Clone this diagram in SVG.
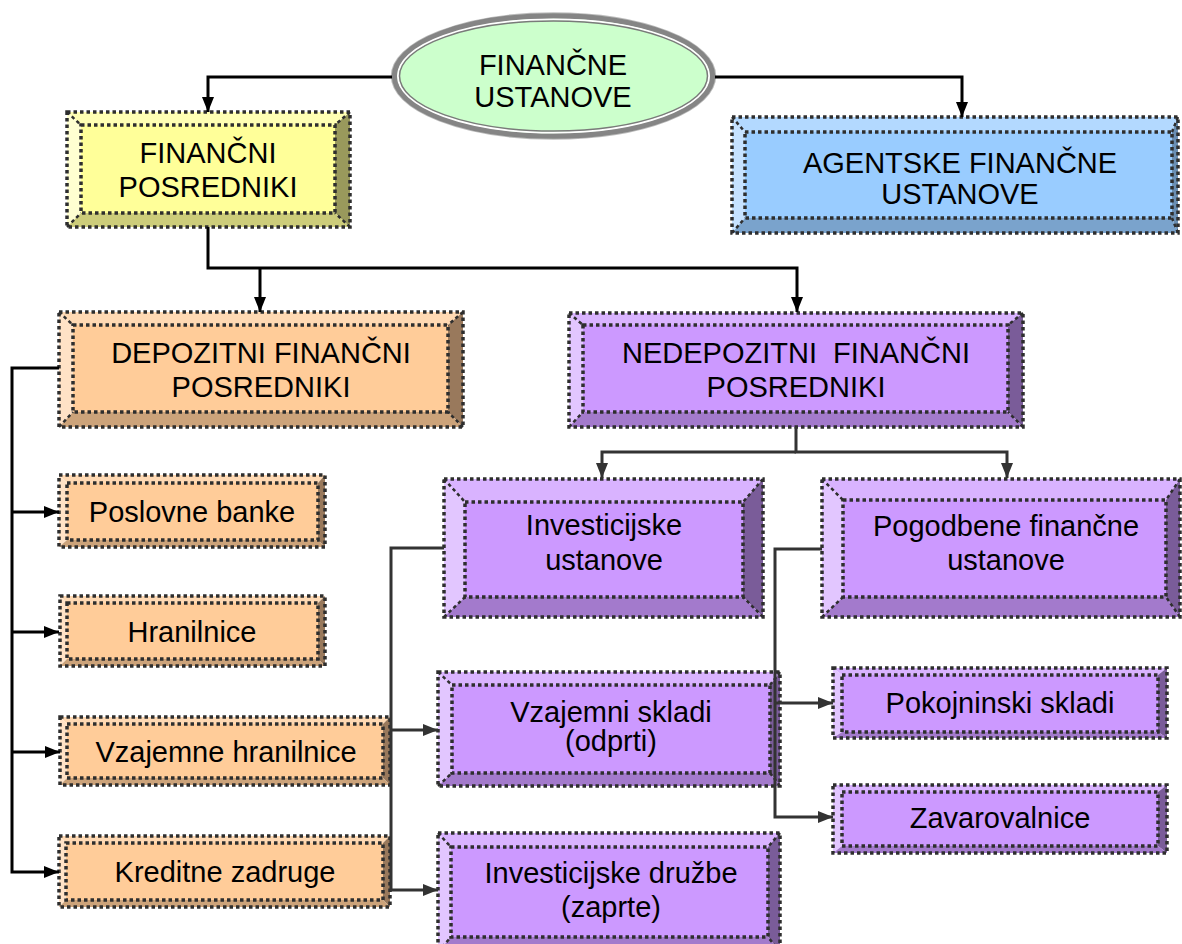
<svg xmlns="http://www.w3.org/2000/svg" width="1182" height="944" viewBox="0 0 1182 944">
<style>
text{font-family:"Liberation Sans",Arial,sans-serif;font-size:29px;fill:#000;text-anchor:middle}
.o,.f,.d{stroke:#2e2e2e;stroke-dasharray:3.5 3;stroke-width:3.5}
.o{fill:none}
.d{fill:none;stroke-width:2.5}
.yel .t{fill:#ffffb3}.yel .l{fill:#ffffd1}.yel .r{fill:#99995c}.yel .b{fill:#cccc7a}.yel .f{fill:#ffff99}
.blu .t{fill:#b3d9ff}.blu .l{fill:#c6e2ff}.blu .r{fill:#6b8fb3}.blu .b{fill:#7aa3cc}.blu .f{fill:#99ccff}
.ora .t{fill:#ffd9b3}.ora .l{fill:#ffe2c6}.ora .r{fill:#99795c}.ora .b{fill:#cca37a}.ora .f{fill:#ffcc99}
.pur .t{fill:#d9b3ff}.pur .l{fill:#e2c6ff}.pur .r{fill:#7a5c99}.pur .b{fill:#a37acc}.pur .f{fill:#cc99ff}
.cb{fill:none;stroke:#000;stroke-width:3}
.cg{fill:none;stroke:#333;stroke-width:3}
</style>
<defs>
<marker id="ab" viewBox="0 0 10 10" refX="10" refY="5" markerWidth="15" markerHeight="15" markerUnits="userSpaceOnUse" orient="auto"><path d="M0,1 L10,5 L0,9 z" fill="#000"/></marker>
<marker id="ag" viewBox="0 0 10 10" refX="10" refY="5" markerWidth="15" markerHeight="15" markerUnits="userSpaceOnUse" orient="auto"><path d="M0,1 L10,5 L0,9 z" fill="#333"/></marker>
</defs>

<g id="n-financne-ustanove">
<ellipse cx="553.5" cy="76" rx="162" ry="63" fill="#ccffcc" stroke="#bdbdbd" stroke-width="1.5"/>
<ellipse cx="553.5" cy="76" rx="159" ry="60" fill="none" stroke="#858585" stroke-width="5.5"/>
<ellipse cx="553.5" cy="76" rx="155.5" ry="56.5" fill="none" stroke="#fff" stroke-width="2"/>
<ellipse cx="553.5" cy="76" rx="154" ry="55" fill="none" stroke="#7a7a7a" stroke-width="1.5"/>
<text x="553" y="75">FINANČNE</text>
<text x="553" y="107">USTANOVE</text>
</g>

<g id="n-financni-posredniki" class="yel">
<polygon class="t" points="67,112 350,112 335,125 81,125"/>
<polygon class="l" points="67,112 81,125 81,213 67,227"/>
<polygon class="r" points="350,112 350,227 335,213 335,125"/>
<polygon class="b" points="67,227 81,213 335,213 350,227"/>
<rect class="f" x="81" y="125" width="254" height="88"/>
<rect class="o" x="67" y="112" width="283" height="115"/>
<path class="d" d="M67,112 L81,125 M350,112 L335,125 M350,227 L335,213 M67,227 L81,213"/>
<text x="208" y="163">FINANČNI</text>
<text x="208" y="197">POSREDNIKI</text>
</g>

<g id="n-agentske" class="blu">
<polygon class="t" points="732,117 1178,117 1172,132 745,132"/>
<polygon class="l" points="732,117 745,132 745,218 732,233"/>
<polygon class="r" points="1178,117 1178,233 1172,218 1172,132"/>
<polygon class="b" points="732,233 745,218 1172,218 1178,233"/>
<rect class="f" x="745" y="132" width="427" height="86"/>
<rect class="o" x="732" y="117" width="446" height="116"/>
<path class="d" d="M732,117 L745,132 M1178,117 L1172,132 M1178,233 L1172,218 M732,233 L745,218"/>
<text x="960" y="173">AGENTSKE FINANČNE</text>
<text x="960" y="204">USTANOVE</text>
</g>

<g id="n-depozitni" class="ora">
<polygon class="t" points="59,312 463,312 448,325 73,325"/>
<polygon class="l" points="59,312 73,325 73,412 59,427"/>
<polygon class="r" points="463,312 463,427 448,412 448,325"/>
<polygon class="b" points="59,427 73,412 448,412 463,427"/>
<rect class="f" x="73" y="325" width="375" height="87"/>
<rect class="o" x="59" y="312" width="404" height="115"/>
<path class="d" d="M59,312 L73,325 M463,312 L448,325 M463,427 L448,412 M59,427 L73,412"/>
<text x="261" y="363">DEPOZITNI FINANČNI</text>
<text x="261" y="397">POSREDNIKI</text>
</g>

<g id="n-nedepozitni" class="pur">
<polygon class="t" points="569,313 1023,313 1008,325 583,325"/>
<polygon class="l" points="569,313 583,325 583,412 569,427"/>
<polygon class="r" points="1023,313 1023,427 1008,412 1008,325"/>
<polygon class="b" points="569,427 583,412 1008,412 1023,427"/>
<rect class="f" x="583" y="325" width="425" height="87"/>
<rect class="o" x="569" y="313" width="454" height="114"/>
<path class="d" d="M569,313 L583,325 M1023,313 L1008,325 M1023,427 L1008,412 M569,427 L583,412"/>
<text x="796" y="363" xml:space="preserve">NEDEPOZITNI  FINANČNI</text>
<text x="796" y="397">POSREDNIKI</text>
</g>

<g id="n-investicijske-ustanove" class="pur">
<polygon class="t" points="444,479 763,479 743,502 465,502"/>
<polygon class="l" points="444,479 465,502 465,597 444,617"/>
<polygon class="r" points="763,479 763,617 743,597 743,502"/>
<polygon class="b" points="444,617 465,597 743,597 763,617"/>
<rect class="f" x="465" y="502" width="278" height="95"/>
<rect class="o" x="444" y="479" width="319" height="138"/>
<path class="d" d="M444,479 L465,502 M763,479 L743,502 M763,617 L743,597 M444,617 L465,597"/>
<text x="604" y="535">Investicijske</text>
<text x="604" y="570">ustanove</text>
</g>

<g id="n-pogodbene" class="pur">
<polygon class="t" points="822,479 1180,479 1166,500 843,500"/>
<polygon class="l" points="822,479 843,500 843,597 822,617"/>
<polygon class="r" points="1180,479 1180,617 1166,597 1166,500"/>
<polygon class="b" points="822,617 843,597 1166,597 1180,617"/>
<rect class="f" x="843" y="500" width="323" height="97"/>
<rect class="o" x="822" y="479" width="358" height="138"/>
<path class="d" d="M822,479 L843,500 M1180,479 L1166,500 M1180,617 L1166,597 M822,617 L843,597"/>
<text x="1006" y="536">Pogodbene finančne</text>
<text x="1006" y="570">ustanove</text>
</g>

<g id="n-poslovne-banke" class="ora">
<polygon class="t" points="59,475 325,475 318,483 67,483"/>
<polygon class="l" points="59,475 67,483 67,540 59,547"/>
<polygon class="r" points="325,475 325,547 318,540 318,483"/>
<polygon class="b" points="59,547 67,540 318,540 325,547"/>
<rect class="f" x="67" y="483" width="251" height="57"/>
<rect class="o" x="59" y="475" width="266" height="72"/>
<text x="192" y="522">Poslovne banke</text>
</g>

<g id="n-hranilnice" class="ora">
<polygon class="t" points="60,596 325,596 318,603 67,603"/>
<polygon class="l" points="60,596 67,603 67,659 60,666"/>
<polygon class="r" points="325,596 325,666 318,659 318,603"/>
<polygon class="b" points="60,666 67,659 318,659 325,666"/>
<rect class="f" x="67" y="603" width="251" height="56"/>
<rect class="o" x="60" y="596" width="265" height="70"/>
<text x="192" y="642">Hranilnice</text>
</g>

<g id="n-vzajemne-hranilnice" class="ora">
<polygon class="t" points="60,717 390,717 383,724 67,724"/>
<polygon class="l" points="60,717 67,724 67,778 60,785"/>
<polygon class="r" points="390,717 390,785 383,778 383,724"/>
<polygon class="b" points="60,785 67,778 383,778 390,785"/>
<rect class="f" x="67" y="724" width="316" height="54"/>
<rect class="o" x="60" y="717" width="330" height="68"/>
<text x="226" y="762">Vzajemne hranilnice</text>
</g>

<g id="n-kreditne-zadruge" class="ora">
<polygon class="t" points="59,836 390,836 383,843 66,843"/>
<polygon class="l" points="59,836 66,843 66,900 59,907"/>
<polygon class="r" points="390,836 390,907 383,900 383,843"/>
<polygon class="b" points="59,907 66,900 383,900 390,907"/>
<rect class="f" x="66" y="843" width="317" height="57"/>
<rect class="o" x="59" y="836" width="331" height="71"/>
<text x="225" y="882">Kreditne zadruge</text>
</g>

<g id="n-vzajemni-skladi" class="pur">
<polygon class="t" points="438,672 780,672 770,685 452,685"/>
<polygon class="l" points="438,672 452,685 452,773 438,786"/>
<polygon class="r" points="780,672 780,786 770,773 770,685"/>
<polygon class="b" points="438,786 452,773 770,773 780,786"/>
<rect class="f" x="452" y="685" width="318" height="88"/>
<rect class="o" x="438" y="672" width="342" height="114"/>
<path class="d" d="M438,672 L452,685 M780,672 L770,685 M780,786 L770,773 M438,786 L452,773"/>
<text x="611" y="722">Vzajemni skladi</text>
<text x="611" y="751">(odprti)</text>
</g>

<g id="n-investicijske-druzbe" class="pur">
<polygon class="t" points="438,833 780,833 768,847 451,847"/>
<polygon class="l" points="438,833 451,847 451,937 438,952"/>
<polygon class="r" points="780,833 780,952 768,937 768,847"/>
<polygon class="b" points="438,952 451,937 768,937 780,952"/>
<rect class="f" x="451" y="847" width="317" height="90"/>
<rect class="o" x="438" y="833" width="342" height="119"/>
<path class="d" d="M438,833 L451,847 M780,833 L768,847 M780,952 L768,937 M438,952 L451,937"/>
<text x="611" y="883">Investicijske družbe</text>
<text x="611" y="917">(zaprte)</text>
</g>

<g id="n-pokojninski-skladi" class="pur">
<polygon class="t" points="833,668 1167,668 1158,675 842,675"/>
<polygon class="l" points="833,668 842,675 842,732 833,738"/>
<polygon class="r" points="1167,668 1167,738 1158,732 1158,675"/>
<polygon class="b" points="833,738 842,732 1158,732 1167,738"/>
<rect class="f" x="842" y="675" width="316" height="57"/>
<rect class="o" x="833" y="668" width="334" height="70"/>
<text x="1000" y="713">Pokojninski skladi</text>
</g>

<g id="n-zavarovalnice" class="pur">
<polygon class="t" points="833,785 1167,785 1158,792 842,792"/>
<polygon class="l" points="833,785 842,792 842,846 833,853"/>
<polygon class="r" points="1167,785 1167,853 1158,846 1158,792"/>
<polygon class="b" points="833,853 842,846 1158,846 1167,853"/>
<rect class="f" x="842" y="792" width="316" height="54"/>
<rect class="o" x="833" y="785" width="334" height="68"/>
<text x="1000" y="828">Zavarovalnice</text>
</g>

<g id="connectors">
<path class="cb" d="M392,77 H208 V112" marker-end="url(#ab)"/>
<path class="cb" d="M715,77 H962 V117" marker-end="url(#ab)"/>
<path class="cb" d="M208,227 V268 H797 V312" marker-end="url(#ab)"/>
<path class="cb" d="M260,268 V312" marker-end="url(#ab)"/>
<path class="cg" d="M796,427 V452 H1007 V478" marker-end="url(#ag)"/>
<path class="cg" d="M796,452 H602 V478" marker-end="url(#ag)"/>
<path class="cb" d="M59,368 H12 V872 H59" marker-end="url(#ab)"/>
<path class="cb" d="M12,512 H59" marker-end="url(#ab)"/>
<path class="cb" d="M12,632 H59" marker-end="url(#ab)"/>
<path class="cb" d="M12,752 H60" marker-end="url(#ab)"/>
<path class="cg" d="M444,548 H391 V890 H438" marker-end="url(#ag)"/>
<path class="cg" d="M391,730 H438" marker-end="url(#ag)"/>
<path class="cg" d="M822,549 H775 V817 H833" marker-end="url(#ag)"/>
<path class="cg" d="M775,703 H833" marker-end="url(#ag)"/>
</g>
</svg>
